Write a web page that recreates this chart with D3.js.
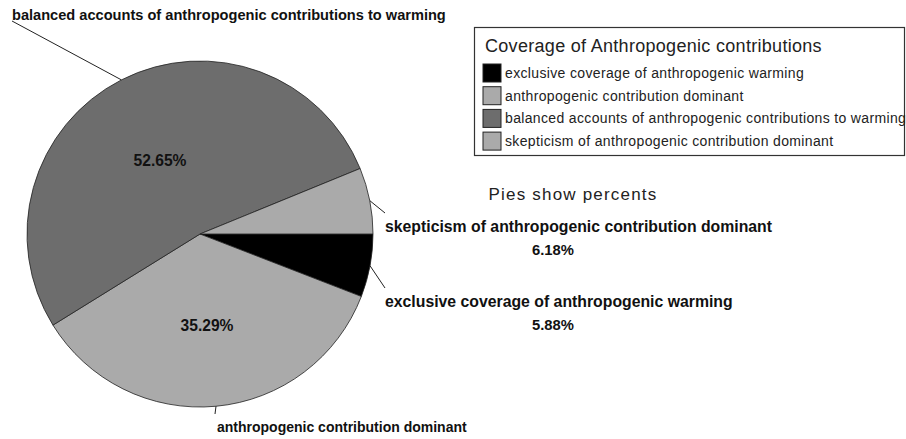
<!DOCTYPE html>
<html>
<head>
<meta charset="utf-8">
<script src="https://cdn.jsdelivr.net/npm/d3@7"></script>
<style>
  body { margin: 0; background: #fff; }
  svg { font-family: "Liberation Sans", Arial, sans-serif; }
</style>
</head>
<body>
<div id="chart"></div>
<script>
// slices in drawing order, clockwise starting from 3 o'clock
var categories = [
  "exclusive coverage of anthropogenic warming",
  "anthropogenic contribution dominant",
  "balanced accounts of anthropogenic contributions to warming",
  "skepticism of anthropogenic contribution dominant"
]
var values = [5.88, 35.29, 52.65, 6.18]
var sliceColors = ["#000000", "#aaaaaa", "#6d6d6d", "#aaaaaa"]
var legendTitle = "Coverage of Anthropogenic contributions"
var subTitle = "Pies show percents"

var width = 906, height = 439
  , cx = 200, cy = 234, radius = 173

var svg = d3.select('#chart').append('svg')
  .attr('width', width)
  .attr('height', height)

var pie = d3.pie()
  .sort(null)
  .value(function(d){ return d })
  .startAngle(Math.PI / 2)
  .endAngle(Math.PI / 2 + 2 * Math.PI)

var arc = d3.arc()
  .innerRadius(0)
  .outerRadius(radius)

var arcs = pie(values)

var g = svg.append('g')
  .attr('transform', 'translate(' + cx + ',' + cy + ')')

g.selectAll('.slice')
  .data(arcs)
  .enter().append('path')
  .attr('class', 'slice')
  .attr('d', arc)
  .attr('fill', function(d, i){ return sliceColors[i] })
  .attr('stroke', '#222')
  .attr('stroke-width', 0.8)

// point on the rim at the middle of a slice
function rim(d, r) {
  var a = (d.startAngle + d.endAngle) / 2
  return [cx + Math.sin(a) * r, cy - Math.cos(a) * r]
}

// outside labels: end of leader line, text position, font size
var outside = [
  {end: [385, 288], x: 385, y: 307, size: 15.8, pctX: 553, pctY: 330},
  {end: [215, 414], x: 217, y: 432, size: 14},
  {end: [12, 21], x: 12, y: 20, size: 14.6},
  {end: [385, 213], x: 385, y: 232, size: 15.8, pctX: 553, pctY: 255}
]

arcs.forEach(function(d, i) {
  var p = rim(d, radius)
  var o = outside[i]
  svg.append('line')
    .attr('x1', p[0]).attr('y1', p[1])
    .attr('x2', o.end[0]).attr('y2', o.end[1])
    .attr('stroke', '#222')
    .attr('stroke-width', 1)
  svg.append('text')
    .attr('x', o.x).attr('y', o.y)
    .attr('font-size', o.size)
    .attr('font-weight', 'bold')
    .attr('fill', '#111')
    .text(categories[i])
  if (o.pctX) {
    svg.append('text')
      .attr('x', o.pctX).attr('y', o.pctY)
      .attr('text-anchor', 'middle')
      .attr('font-size', 14.8)
      .attr('font-weight', 'bold')
      .attr('fill', '#111')
      .text(values[i].toFixed(2) + '%')
  }
})

// percent labels inside the two large slices
var inside = {1: [207, 331], 2: [160, 166]}
Object.keys(inside).forEach(function(k) {
  svg.append('text')
    .attr('x', inside[k][0]).attr('y', inside[k][1])
    .attr('text-anchor', 'middle')
    .attr('font-size', 15.6)
    .attr('font-weight', 'bold')
    .attr('fill', '#111')
    .text(values[k].toFixed(2) + '%')
})

// subtitle
svg.append('text')
  .attr('x', 573).attr('y', 200)
  .attr('text-anchor', 'middle')
  .attr('font-size', 17)
  .attr('letter-spacing', 1.2)
  .attr('fill', '#222')
  .text(subTitle)

// Legend

var legend = svg.append('g')
  .attr('transform', 'translate(474,27)')

legend.append('rect')
  .attr('x', 0.5).attr('y', 0.5)
  .attr('width', 430).attr('height', 128)
  .attr('fill', '#fff')
  .attr('stroke', '#333')
  .attr('stroke-width', 1.2)

legend.append('text')
  .attr('x', 11).attr('y', 25)
  .attr('font-size', 18)
  .attr('letter-spacing', 0.3)
  .attr('fill', '#222')
  .text(legendTitle)

var rows = legend.selectAll('.row')
  .data(categories)
  .enter().append('g')
  .attr('class', 'row')
  .attr('transform', function(d, i){ return 'translate(9,' + (37 + i * 22.7) + ')' })

rows.append('rect')
  .attr('width', 18).attr('height', 18)
  .attr('fill', function(d, i){ return sliceColors[i] })
  .attr('stroke', '#222')
  .attr('stroke-width', 1)

rows.append('text')
  .attr('x', 22).attr('y', 14)
  .attr('font-size', 14)
  .attr('letter-spacing', 0.35)
  .attr('fill', '#222')
  .text(function(d){ return d })
</script>
</body>
</html>
